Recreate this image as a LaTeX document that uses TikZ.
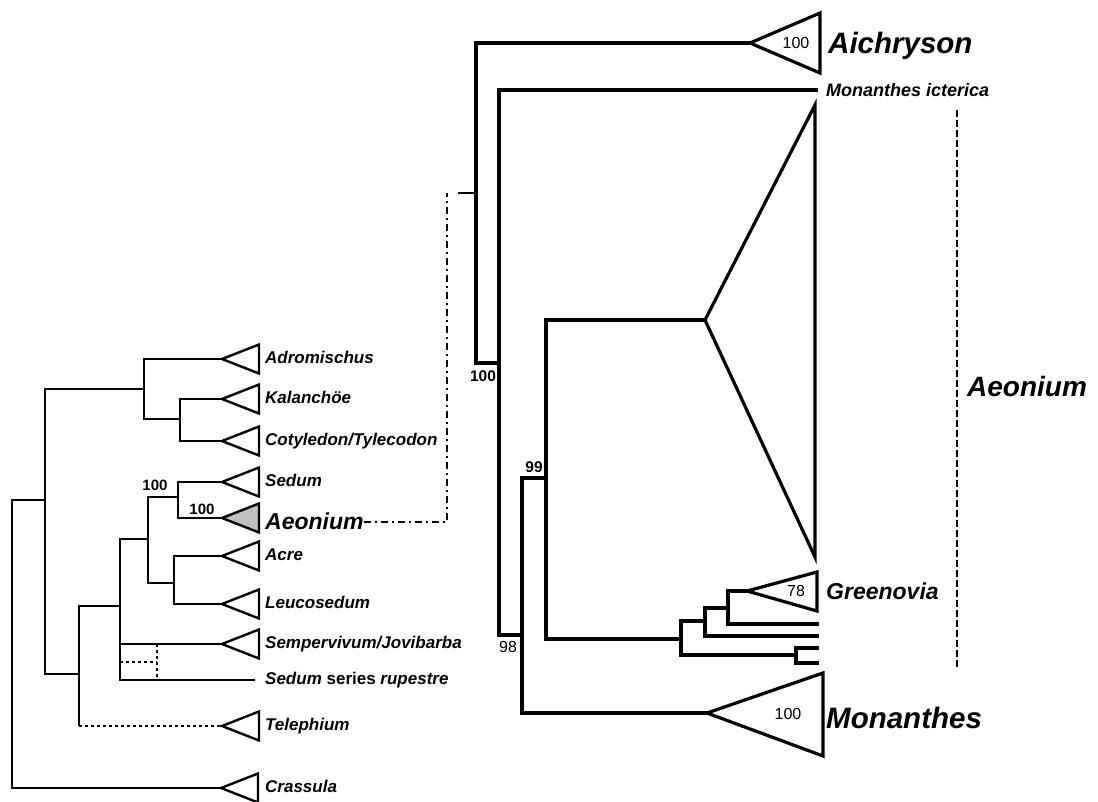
\documentclass[tikz,border=0pt]{standalone}
\usepackage{fontspec}
\setmainfont{Liberation Sans}
\newcommand\cladeL[1]{\draw[ltri] (#1) -- ++(37,-14.5) -- ++(0,29) -- cycle;}
\begin{document}
\begin{tikzpicture}[x=1pt,y=-1pt,
  lbr/.style={line width=2.4pt},
  rbr/.style={line width=3.2pt},
  ltri/.style={line width=2.4pt, line join=miter},
  rtri/.style={line width=3.2pt, line join=miter},
  ldot/.style={line width=2.4pt, dash pattern=on 3pt off 3pt},
  ddot/.style={line width=2.4pt, dash pattern=on 7pt off 4pt on 2pt off 4pt},
  brk/.style={line width=2.8pt, dash pattern=on 7pt off 3pt},
  ltxt/.style={anchor=base west, inner sep=0pt, font=\fontsize{17}{20}\selectfont\bfseries\itshape},
  bigtxt/.style={anchor=base west, inner sep=0pt, font=\fontsize{29.5}{32}\selectfont\bfseries\itshape},
  lnum/.style={inner sep=0pt, font=\fontsize{15}{17}\selectfont\bfseries},
  rnum/.style={inner sep=0pt, font=\fontsize{16}{18}\selectfont},
  rnumb/.style={inner sep=0pt, font=\fontsize{15.5}{18}\selectfont\bfseries}]
\useasboundingbox (0,0) rectangle (1098,801);

% ---------- left tree ----------
\coordinate (Adr) at (222,359);
\coordinate (Kal) at (222,399);
\coordinate (Cot) at (222,441);
\coordinate (Sed) at (222,482);
\coordinate (Aeo) at (222,518);
\coordinate (Acr) at (222,556);
\coordinate (Leu) at (222,604);
\coordinate (Sem) at (222,644);
\coordinate (Rup) at (255,680);
\coordinate (Tel) at (222,726);
\coordinate (Cra) at (221,788);
\coordinate (n1) at (180,419);
\coordinate (n2) at (144,389);
\coordinate (n3) at (178,497);
\coordinate (n4) at (174,583);
\coordinate (n5) at (148,539);
\coordinate (n6) at (120,606);
\coordinate (n7) at (79,674);
\coordinate (n8) at (45,500);
\coordinate (n0) at (12,600);

\draw[lbr] (Kal) -| (n1) |- (Cot);
\draw[lbr] (Adr) -| (n2) |- (n1);
\draw[lbr] (Sed) -| (n3) |- (Aeo);
\draw[lbr] (Acr) -| (n4) |- (Leu);
\draw[lbr] (n3) -| (n5) |- (n4);
\draw[lbr] (n5) -| (n6) |- (Rup);
\draw[lbr] (n6 |- Sem) -- (Sem);
\draw[lbr] (n6) -| (n7) -- (n7 |- Tel);
\draw[ldot] (n7 |- Tel) -- (Tel);
\draw[lbr] (n2) -| (n8) |- (n7);
\draw[lbr] (n8) -| (n0) |- (Cra);

\coordinate (d1) at (157,644);
\coordinate (d2) at (157,680);
\coordinate (d3) at (120,662);
\draw[ldot] (d1) -- (d2);
\draw[ldot] (d3) -- (d3 -| d1);

\cladeL{Adr}
\cladeL{Kal}
\cladeL{Cot}
\cladeL{Sed}
\draw[ltri, fill={rgb,255:red,192;green,192;blue,192}] (Aeo) -- ++(37,-14.5) -- ++(0,29) -- cycle;
\cladeL{Acr}
\cladeL{Leu}
\cladeL{Sem}
\cladeL{Tel}
\cladeL{Cra}

\node[ltxt] (tAdr) at (265,363) {Adromischus};
\node[ltxt] (tKal) at (265,403) {Kalanchöe};
\node[ltxt] (tCot) at (265,445) {Cotyledon/Tylecodon};
\node[ltxt] (tSed) at (265,486) {Sedum};
\node[anchor=base west, inner sep=0pt, font=\fontsize{23}{26}\selectfont\bfseries\itshape] (tAeo) at (265,529) {Aeonium};
\node[ltxt] (tAcr) at (265,560) {Acre};
\node[ltxt] (tLeu) at (265,608) {Leucosedum};
\node[ltxt] (tSem) at (265,648) {Sempervivum/Jovibarba};
\node[ltxt] (tRup) at (265,684) {Sedum {\upshape series} rupestre};
\node[ltxt] (tTel) at (265,730) {Telephium};
\node[ltxt] (tCra) at (265,792) {Crassula};

\node[lnum] (b1) at (155,485) {100};
\node[lnum] (b2) at (202,509) {100};

% ---------- connector ----------
\coordinate (dd0) at (364,522);
\coordinate (dd1) at (447,522);
\coordinate (dd2) at (447,193);
\coordinate (dd3) at (458,193);

% ---------- right tree ----------
\coordinate (Aich) at (750,43);
\coordinate (MI) at (818,90);
\coordinate (BT) at (705,320);
\coordinate (Gre) at (747,591);
\coordinate (L2) at (819,624);
\coordinate (L3) at (819,636);
\coordinate (L4) at (819,648);
\coordinate (L5) at (819,663);
\coordinate (Mon) at (707,713);
\coordinate (g1) at (728,608);
\coordinate (g2) at (705,621);
\coordinate (g3) at (796,655);
\coordinate (g4) at (681,639);
\coordinate (a99) at (546,478);
\coordinate (a98) at (522,635);
\coordinate (b) at (499,363);
\coordinate (r) at (476,193);

\draw[ddot] (dd0) -- (dd1) -- (dd2);
\draw[lbr] (dd3) -- (r);

\draw[rbr] (Gre) -| (g1) |- (L2);
\draw[rbr] (g1) -| (g2) |- (L3);
\draw[rbr] (L4) -| (g3) |- (L5);
\draw[rbr] (g2) -| (g4) |- (g3);
\draw[rbr] (BT) -| (a99) |- (g4);
\draw[rbr] (a99) -| (a98) |- (Mon);
\draw[rbr] (MI) -| (b) |- (a98);
\draw[rbr] (Aich) -| (r) |- (b);

\draw[rtri] (Aich) -- (820,13) -- (820,73) -- cycle;
\draw[rtri] (BT) -- (815,105) -- (815,557) -- cycle;
\draw[rtri] (Gre) -- (817,572) -- (817,611) -- cycle;
\draw[rtri] (Mon) -- (823,673) -- (823,756) -- cycle;

\coordinate (k1) at (957,110);
\coordinate (k2) at (957,667);
\draw[brk] (k1) -- (k2);

\node[rnum] (s1) at (796,43) {100};
\node[rnumb] (s2) at (483,376) {100};
\node[rnumb] (s3) at (534,467) {99};
\node[rnum] (s4) at (508,647) {98};
\node[rnum] (s5) at (796,591) {78};
\node[rnum] (s6) at (788,714) {100};

\node[bigtxt] (tAich) at (828,53) {Aichryson};
\node[anchor=base west, inner sep=0pt, font=\fontsize{18}{20}\selectfont\bfseries\itshape] (tMI) at (826,96) {Monanthes icterica};
\node[anchor=base west, inner sep=0pt, font=\fontsize{28}{30}\selectfont\bfseries\itshape] (tAeoR) at (967,396) {Aeonium};
\node[anchor=base west, inner sep=0pt, font=\fontsize{23}{26}\selectfont\bfseries\itshape] (tGre) at (826,599) {Greenovia};
\node[bigtxt] (tMon) at (826,728) {Monanthes};
\end{tikzpicture}
\end{document}
